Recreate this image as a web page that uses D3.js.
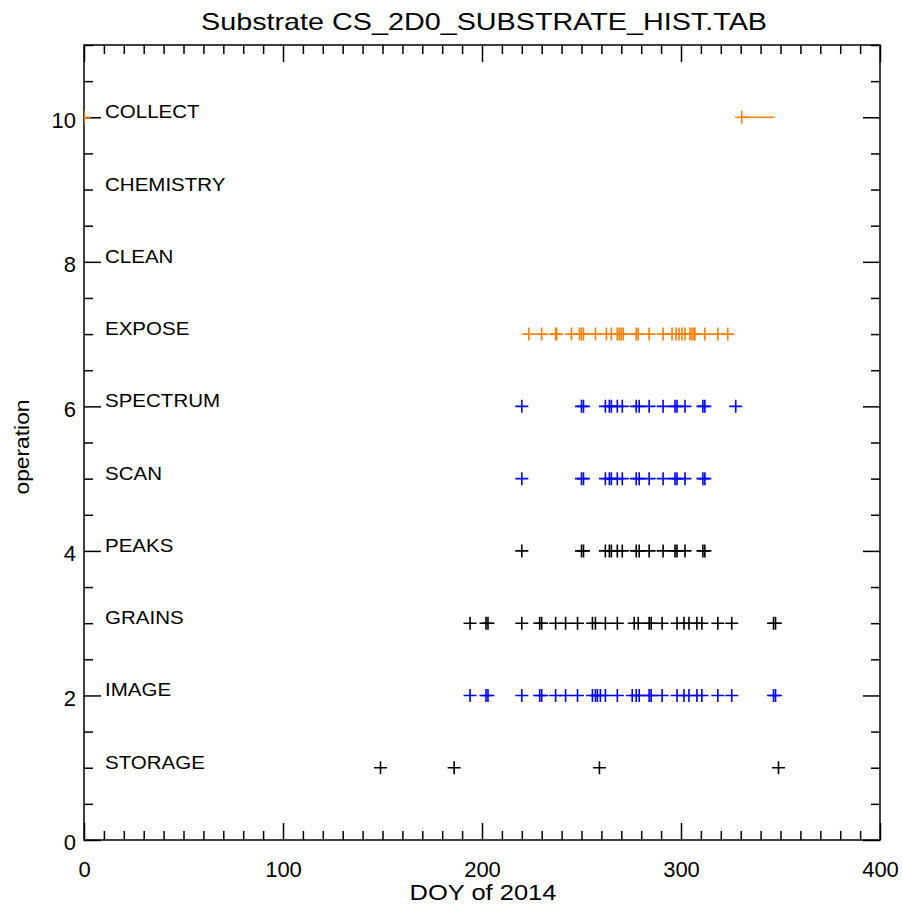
<!DOCTYPE html>
<html lang="en">
<head>
<meta charset="UTF-8">
<title>Substrate CS_2D0_SUBSTRATE_HIST.TAB</title>
<script src="https://cdn.jsdelivr.net/npm/d3@7"></script>
<style>
  body { margin: 0; background: #fff; }
  text { font-family: "Liberation Sans", Arial, sans-serif; fill: #000; }
</style>
</head>
<body>
<svg id="chart" width="903" height="904"></svg>
<script>
// operation names, index = y value
var operations = ['STORAGE', 'IMAGE', 'GRAINS', 'PEAKS', 'SCAN', 'SPECTRUM', 'EXPOSE', 'CLEAN', 'CHEMISTRY', 'COLLECT'];
var operationLevels = [1, 2, 3, 4, 5, 6, 7, 8, 9, 10];

// DOY of 2014 for each operation
var storageDays = [149, 186, 259, 349];
var imageDays = [194, 202, 203, 220, 229, 230, 237, 242, 248, 255.5, 257, 258, 259.5, 262, 268, 275.5, 277.5, 279,
  284, 285, 290.5, 298, 301.5, 304, 308, 310.5, 318.5, 325.5, 346.5, 347.5];
var grainsDays = [194, 202, 203, 220, 229, 230, 237, 242, 248, 255.5, 257, 262, 268, 276.5, 278.5,
  284, 285, 290.5, 298, 301.5, 304, 308, 310.5, 318.5, 325.5, 346.5, 347.5];
var peaksDays = [220, 250, 251, 262, 264, 265, 268, 270.5, 277.5, 279, 284, 291, 297, 298, 302, 311, 312];
var scanDays = [220, 250, 251, 262, 264, 265, 268, 270.5, 277.5, 279, 284, 291, 297, 298, 302, 311, 312];
var spectrumDays = [220, 250, 251, 262, 264, 265, 268, 270.5, 277.5, 279, 284, 291, 297, 298, 302, 311, 312, 327.5];
var exposeDays = [223.5, 230, 237, 237.5, 245, 249, 250, 251, 257, 262.5, 265, 268, 269, 270, 271, 277.5, 278.5,
  284, 291, 295.5, 297.5, 299, 300.5, 302, 304.5, 305.5, 306.5, 307, 312, 318.5, 323.5];
var cleanDays = [];
var chemistryDays = [];
var collectDays = [0, 330.5];
var collectSpan = [330.5, 347];

// tick values
var xMajorTicks = [0, 100, 200, 300, 400];
var yMajorTicks = [0, 2, 4, 6, 8, 10];

var orange = '#ff7f00', blue = '#0000ff', black = '#000000';

var series = [
  { level: 1, days: storageDays, color: black },
  { level: 2, days: imageDays, color: blue },
  { level: 3, days: grainsDays, color: black },
  { level: 4, days: peaksDays, color: black },
  { level: 5, days: scanDays, color: blue },
  { level: 6, days: spectrumDays, color: blue },
  { level: 7, days: exposeDays, color: orange },
  { level: 8, days: cleanDays, color: black },
  { level: 9, days: chemistryDays, color: black },
  { level: 10, days: collectDays, color: orange }
];

var svg = d3.select('#chart');
var plotLeft = 84, plotRight = 880, plotTop = 45, plotBottom = 840;

var x = d3.scaleLinear().domain([0, 400]).range([plotLeft, plotRight]);
var y = d3.scaleLinear().domain([0, 11]).range([plotBottom, plotTop]);

var xMinorTicks = d3.range(0, 401, 10).filter(function (d) { return d % 100 !== 0; });
var yMinorTicks = d3.range(0, 11.01, 0.5).filter(function (d) { return d % 2 !== 0; });

var majorLen = 17, minorLen = 9;

// axes: ticks point inward on all four sides
function addAxis(axis, tr, values, len, fmt) {
  var g = svg.append('g').attr('transform', tr)
    .call(axis.tickValues(values).tickSize(-len).tickFormat(fmt || function () { return ''; }));
  g.select('.domain').remove();
  g.selectAll('line').attr('stroke', '#000').attr('stroke-width', 1.5);
  return g;
}

var gb = addAxis(d3.axisBottom(x).tickPadding(21), 'translate(0,' + plotBottom + ')', xMajorTicks, majorLen, d3.format('d'));
addAxis(d3.axisBottom(x), 'translate(0,' + plotBottom + ')', xMinorTicks, minorLen);
addAxis(d3.axisTop(x), 'translate(0,' + plotTop + ')', xMajorTicks, majorLen);
addAxis(d3.axisTop(x), 'translate(0,' + plotTop + ')', xMinorTicks, minorLen);
var gl = addAxis(d3.axisLeft(y).tickPadding(8), 'translate(' + plotLeft + ',0)', yMajorTicks, majorLen, d3.format('d'));
addAxis(d3.axisLeft(y), 'translate(' + plotLeft + ',0)', yMinorTicks, minorLen);
addAxis(d3.axisRight(y), 'translate(' + plotRight + ',0)', yMajorTicks, majorLen);
addAxis(d3.axisRight(y), 'translate(' + plotRight + ',0)', yMinorTicks, minorLen);

gb.attr('font-family', null).attr('font-size', null);
gl.attr('font-family', null).attr('font-size', null);
gb.selectAll('text').style('font-size', '22px');
gl.selectAll('text').style('font-size', '22px').attr('dy', '0.45em');

// frame
svg.append('rect')
  .attr('x', plotLeft).attr('y', plotTop)
  .attr('width', plotRight - plotLeft).attr('height', plotBottom - plotTop)
  .attr('fill', 'none').attr('stroke', '#000').attr('stroke-width', 1.5);

// operation names
svg.append('g').selectAll('text')
  .data(operationLevels)
  .enter().append('text')
  .attr('transform', function (d) { return 'translate(105,' + (y(d) + 1) + ') scale(1.14,1)'; })
  .style('font-size', '18px')
  .text(function (d, i) { return operations[i]; });

// markers, clipped to the plot window
svg.append('clipPath').attr('id', 'plotclip')
  .append('rect').attr('x', plotLeft).attr('y', plotTop)
  .attr('width', plotRight - plotLeft).attr('height', plotBottom - plotTop);

var plot = svg.append('g').attr('clip-path', 'url(#plotclip)');
var arm = 6.5;

series.forEach(function (s) {
  plot.append('g').selectAll('path')
    .data(s.days)
    .enter().append('path')
    .attr('d', function (d) {
      var cx = x(d), cy = y(s.level);
      return 'M' + (cx - arm) + ',' + cy + 'H' + (cx + arm) + 'M' + cx + ',' + (cy - arm) + 'V' + (cy + arm);
    })
    .attr('stroke', s.color)
    .attr('stroke-width', 1.6)
    .attr('fill', 'none');
});

plot.append('line')
  .attr('x1', x(collectSpan[0])).attr('x2', x(collectSpan[1]))
  .attr('y1', y(10)).attr('y2', y(10))
  .attr('stroke', orange).attr('stroke-width', 1.6);

// titles
svg.append('text')
  .attr('x', 484).attr('y', 30)
  .attr('text-anchor', 'middle')
  .attr('textLength', 566).attr('lengthAdjust', 'spacingAndGlyphs')
  .style('font-size', '24px')
  .text('Substrate CS_2D0_SUBSTRATE_HIST.TAB');

svg.append('text')
  .attr('x', 483).attr('y', 900)
  .attr('text-anchor', 'middle')
  .attr('textLength', 147).attr('lengthAdjust', 'spacingAndGlyphs')
  .style('font-size', '22px')
  .text('DOY of 2014');

svg.append('text')
  .attr('transform', 'translate(29,447) rotate(-90)')
  .attr('text-anchor', 'middle')
  .attr('textLength', 95).attr('lengthAdjust', 'spacingAndGlyphs')
  .style('font-size', '20px')
  .text('operation');
</script>
</body>
</html>
